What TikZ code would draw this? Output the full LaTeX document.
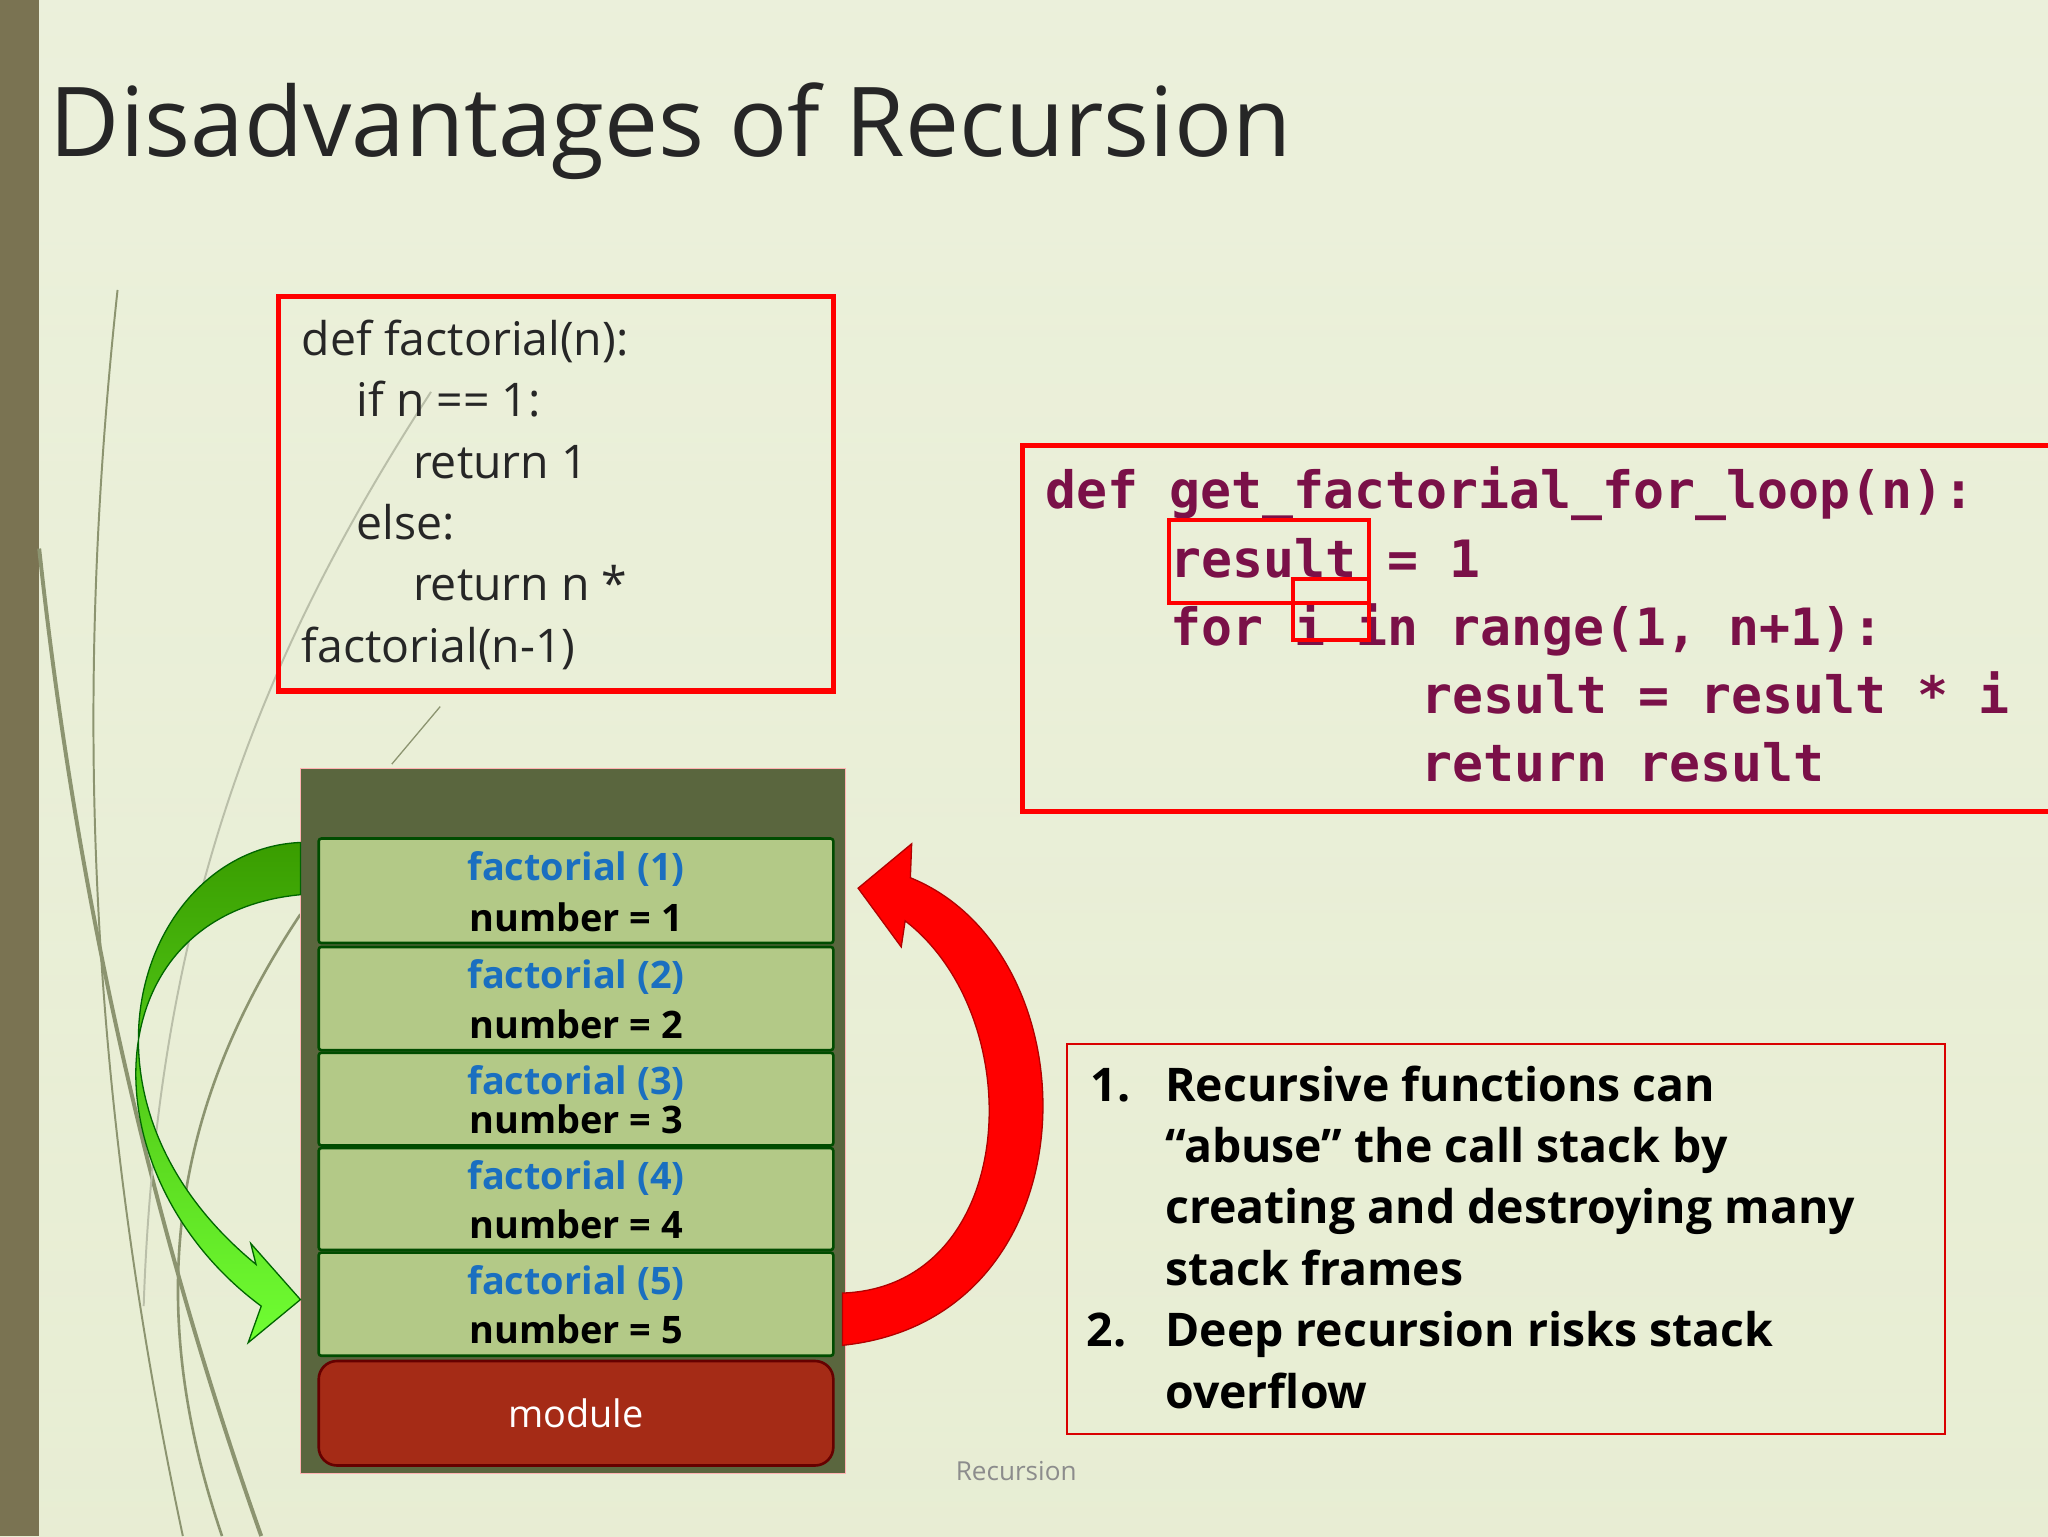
\documentclass[tikz,border=0pt]{standalone}
\usepackage{fontspec}
\setmainfont{Open Sans}
\newfontfamily\codefont{DejaVu Sans Mono}
\definecolor{bar}{HTML}{7A7352}
\definecolor{stackbg}{HTML}{5A663E}
\definecolor{frame}{HTML}{B3C987}
\definecolor{fblue}{HTML}{1A6FC0}
\definecolor{modred}{HTML}{A52B16}
\definecolor{codecol}{HTML}{7A1048}
\definecolor{deco}{HTML}{8C9470}
\definecolor{bgl}{HTML}{DCE5BE}
\definecolor{bgr}{HTML}{F2F5E6}
\tikzset{
 redbox/.style={draw=red,line width=4pt},
 frm/.style={draw=black!70!green,line width=2pt,fill=frame,rounded corners=2pt},
 ln/.style={anchor=base west,inner sep=0pt},
 code/.style={ln,font=\codefont\bfseries\fontsize{39.4}{44}\selectfont,text=codecol},
 t1/.style={ln,font=\fontsize{35.5}{40}\selectfont,text=black!85},
 lst/.style={ln,font=\bfseries\fontsize{35.5}{40}\selectfont,text=black},
 fb/.style={font=\bfseries\fontsize{29}{34}\selectfont,text=fblue,inner sep=0pt},
 fn/.style={font=\bfseries\fontsize{29}{34}\selectfont,text=black,inner sep=0pt},
}
\begin{document}
\begin{tikzpicture}[x=1pt,y=-1pt]
\useasboundingbox (0,0) rectangle (1568,1176);
\shade[left color=bgl, right color=bgr, shading angle=0] (0,0) rectangle (1568,1176);
\shade[top color=white,bottom color=bgl,opacity=0.45] (0,0) rectangle (1568,1176);
\fill[bar] (0,0) rectangle (30,1176);
% decorative lines
\draw[deco,line width=1.5pt] (90,222) .. controls (60,500) and (60,800) .. (140,1176);
\draw[deco,line width=3pt] (30,420) .. controls (60,700) and (120,950) .. (200,1176);
\draw[deco!60,line width=1.5pt] (330,300) .. controls (200,500) and (120,700) .. (110,1000);
\draw[deco,line width=2pt] (230,700) .. controls (130,850) and (110,1000) .. (170,1176);
\draw[deco,line width=1pt] (337,541) -- (300,585);
\node[ln,font=\fontsize{73.8}{84}\selectfont,text=black!85] (title) at (38,120) {Disadvantages of Recursion};
% box 1
\draw[redbox] (213,227) rectangle (638,529);
\node[t1] (a1) at (231,272) {def factorial(n):};
\node[t1] (a2) at (273,319) {if n == 1:};
\node[t1] (a3) at (316,366) {return 1};
\node[t1] (a4) at (273,413) {else:};
\node[t1] (a5) at (316,460) {return n *};
\node[t1] (a6) at (231,507) {factorial(n-1)};
% box 2
\draw[redbox] (783,341) rectangle (1575,621);
\node[code] (c1) at (800,389) {def get\_factorial\_for\_loop(n):};
\node[code] (c2) at (896,442) {result = 1};
\node[code] (c3) at (896,494) {for i in range(1, n+1):};
\node[code] (c4) at (1088,546) {result = result * i};
\node[code] (c5) at (1088,598) {return result};
\draw[red,line width=3pt] (895,398) rectangle (1048,462);
\draw[red,line width=3pt] (990,443) rectangle (1048,490);
% stack
\draw[fill=stackbg,draw=red!30] (230,588) rectangle (647,1128);
\foreach \i/\a/\b in {1/642/722,2/725/804,3/806/877,4/879/957,5/959/1038}{
 \draw[frm] (244,\a) rectangle (638,\b);
 \node[fb] (f\i) at (441,{\a+23}) {factorial (\i)};
 \node[fn] (n\i) at (441,{\b-20}) {number = \i};
}
\draw[fill=modred,draw=black!60!red,line width=2pt,rounded corners=14pt] (244,1042) rectangle (638,1122);
\node[font=\fontsize{29}{34}\selectfont,text=white] (mod) at (441,1082) {module};
% green arrow
\shade[top color=green!45!black!70!lime,bottom color=green!60!lime!80,draw=green!40!black,line width=1pt]
 (230,645) .. controls (110,650) and (40,840) .. (196,968) -- (192,952) -- (230,995) -- (190,1028) -- (200,1000) .. controls (65,900) and (70,700) .. (230,685) -- cycle;
% red arrow
\fill[red,draw=red!70!black,line width=1pt]
 (645,1030) .. controls (840,1010) and (840,730) .. (697,672) -- (698,646) -- (657,680) -- (690,725) -- (693,705) .. controls (790,780) and (780,985) .. (645,990) -- cycle;
% list
\draw[red!85!black,line width=1.5pt] (817,799) rectangle (1489,1098);
\node[lst] (l1) at (835,843) {1.};
\node[lst] (l1a) at (892,843) {Recursive functions can};
\node[lst] at (892,890) {“abuse” the call stack by};
\node[lst] at (892,937) {creating and destroying many};
\node[lst] at (892,984) {stack frames};
\node[lst] (l2) at (832,1031) {2.};
\node[lst] at (892,1031) {Deep recursion risks stack};
\node[lst] at (892,1078) {overflow};
\node[font=\fontsize{20}{24}\selectfont,text=black!45] (foot) at (778,1126) {Recursion};
\end{tikzpicture}
\end{document}
